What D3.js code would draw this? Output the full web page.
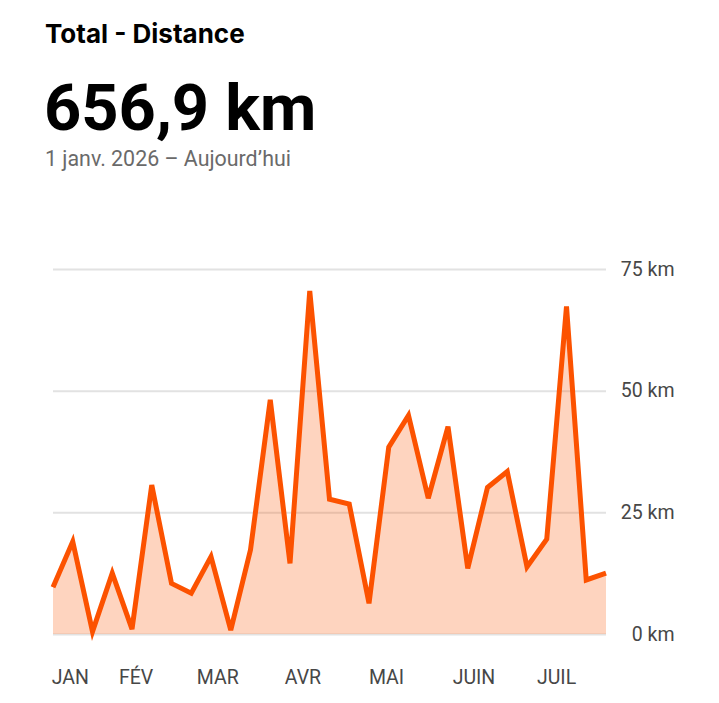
<!DOCTYPE html>
<html>
<head>
<meta charset="utf-8">
<script src="https://cdn.jsdelivr.net/npm/d3@7"></script>
<style>
  body { margin: 0; background: #fff; font-family: Roboto, "Noto Sans", sans-serif; }
</style>
</head>
<body>
<script>
const width = 719;
const height = 703;
const margin = {top: 269, right: 113, bottom: 69, left: 53};

// weekly distance (km), one point per week from 1 janv.
const weeks = d3.range(29);
const distance = [9.6, 19.0, 0.5, 12.5, 1.0, 30.6, 10.4, 8.4, 15.9, 0.8,
                  17.3, 48.1, 14.5, 70.5, 27.7, 26.7, 6.3, 38.4, 44.9, 27.9,
                  42.6, 13.5, 30.1, 33.4, 13.8, 19.5, 67.3, 11.1, 12.5];
// month labels and where they sit (in week units)
const months = ["JAN", "FÉV", "MAR", "AVR", "MAI", "JUIN", "JUIL"];
const monthPos = [0.85, 4.18, 8.32, 12.63, 16.86, 21.29, 25.47];
const yTicks = [0, 25, 50, 75];

const data = weeks.map(i => ({week: i, km: distance[i]}));

const svg = d3.select("body").append("svg")
    .attr("width", width)
    .attr("height", height);

// header
svg.append("text")
    .attr("x", 45).attr("y", 43)
    .attr("font-family", "Inter, sans-serif")
    .attr("font-size", 26).attr("font-weight", 700)
    .attr("fill", "#000")
    .text("Total - Distance");
svg.append("text")
    .attr("x", 44).attr("y", 130)
    .attr("font-size", 65).attr("font-weight", 700)
    .attr("fill", "#000")
    .text("656,9 km");
svg.append("text")
    .attr("x", 45).attr("y", 166)
    .attr("font-size", 21.4)
    .attr("fill", "#6a6a6a")
    .text("1 janv. 2026 – Aujourd’hui");

const x = d3.scaleLinear()
    .domain([0, 28])
    .range([margin.left, width - margin.right]);
const y = d3.scaleLinear()
    .domain([0, 75])
    .range([height - margin.bottom, margin.top]);

// grid + right labels
const yAxis = d3.axisRight(y)
    .tickValues(yTicks)
    .tickSize(-(x.range()[1] - x.range()[0]))
    .tickFormat(d => d + " km");

const gy = svg.append("g")
    .attr("transform", "translate(" + x.range()[1] + ",0)")
    .call(yAxis);
gy.select(".domain").remove();
gy.selectAll(".tick line").attr("stroke", "#e2e2e2").attr("stroke-width", 2);
gy.selectAll(".tick text")
    .attr("text-anchor", "end")
    .attr("x", 68.5)
    .attr("font-family", "Roboto, sans-serif")
    .attr("font-size", 19.5)
    .attr("fill", "#474747");

// area + line
const area = d3.area()
    .x(d => x(d.week))
    .y0(y(0))
    .y1(d => y(d.km));
const line = d3.line()
    .x(d => x(d.week))
    .y(d => y(d.km));

svg.append("path")
    .datum(data)
    .attr("fill", "#fc5200")
    .attr("fill-opacity", 0.25)
    .attr("d", area);

svg.append("path")
    .datum(data)
    .attr("fill", "none")
    .attr("stroke", "#fc5200")
    .attr("stroke-width", 5)
    .attr("stroke-linejoin", "miter")
    .attr("d", line);

// month labels
const xAxis = d3.axisBottom(x)
    .tickValues(monthPos)
    .tickSize(0)
    .tickPadding(0)
    .tickFormat((d, i) => months[i]);

const gx = svg.append("g")
    .attr("transform", "translate(0,683.5)")
    .call(xAxis);
gx.select(".domain").remove();
gx.selectAll(".tick text")
    .attr("dy", 0)
    .attr("font-family", "Roboto, sans-serif")
    .attr("font-size", 19.5)
    .attr("fill", "#474747");
</script>
</body>
</html>
